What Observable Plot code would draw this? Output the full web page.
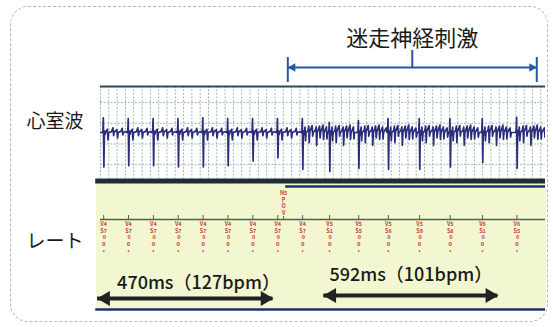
<!DOCTYPE html>
<html><head><meta charset="utf-8">
<script src="https://cdn.jsdelivr.net/npm/d3@7"></script>
<script src="https://cdn.jsdelivr.net/npm/@observablehq/plot@0.6"></script>
<style>
body{margin:0;background:#fff;}
#wrap{position:relative;width:553px;height:327px;overflow:hidden;background:#fff;font-family:"Noto Sans CJK JP","Noto Sans",sans-serif;}
.abs{position:absolute;}
.lane{position:absolute;width:90px;left:10px;text-align:center;font-size:19px;color:#1a1a1a;line-height:1;}
</style></head><body><div id="wrap"></div>
<script>
// ---------------- data ----------------
const intervalsMs = [470,470,470,470,470,470,470,470, 510,550,560,590,580,610,650];
const firstLabelMs = 470;
const rAmp = [0.32,0.30,0.30,0.30,0.32,0.30,0.30,0.30,0.30,0.22,0.26,0.30,0.30,0.30,0.30,0.33];
const sAmp = [-0.75,-0.72,-0.72,-0.75,-0.75,-0.72,-0.62,-0.55,-0.80,-0.85,-0.78,-0.80,-0.80,-0.75,-0.65,-0.78];
const restShape = [[-28,0],[-14,0.04],[-6,"R"],[4,"S"],[14,0.03],[28,-0.04],[40,0.02],[70,0.07],[82,-0.16],[95,0.0],[150,0.02],[175,0.1],[188,-0.07],[200,0.01],[250,0.06],[262,-0.12],[275,0.0],[330,0.03],[350,0.09],[362,-0.05],[375,0.0],[420,0.02]];
const stimShape = [[-28,0],[-14,0.04],[-6,"R"],[4,"S"],[14,0.03],[28,-0.05],[45,0.12],[55,-0.18],[66,0.0],[100,0.04],[115,0.14],[125,-0.22],[136,0.02],[180,0.15],[190,-0.08],[200,0.0],[240,0.05],[255,0.12],[265,-0.28],[276,0.0],[320,0.14],[330,-0.12],[342,0.01],[385,0.16],[395,-0.15],[406,0.0],[450,0.12],[460,-0.14],[470,0.0],[520,0.1],[530,-0.1],[545,0]];
const stimStartMs = 3480, stimEndMs = 8185;
const stimTitle = "迷走神経刺激";
const laneLabels = ["心室波","レート"];
const summaryLabels = ["470ms（127bpm）","592ms（101bpm）"];
const summarySpans = [[-115,3200],[4160,7450]];
const xDomain = [-60, 8350];
const gridLevels = [-0.7,-0.25,0.2,0.65];
const markerText = "N5\nP\nO\nV";

// ---------------- derived ----------------
const beats = [];
{ let t = 0; beats.push({t, label:firstLabelMs, i:0});
  intervalsMs.forEach((iv,k)=>{ t += iv; beats.push({t, label:iv, i:k+1}); }); }
const ecgPoints = [{t:xDomain[0], v:0}];
beats.forEach((b,i)=>{
  const shape = b.t >= stimStartMs ? stimShape : restShape;
  const next = i < intervalsMs.length ? intervalsMs[i] : Infinity;
  shape.forEach(([dt,a])=>{
    if (dt >= next - 30) return;
    const v = a === "R" ? rAmp[i] : a === "S" ? sAmp[i] : a;
    ecgPoints.push({t:b.t+dt, v});
  });
});
ecgPoints.push({t:xDomain[1]+200, v:0});
const gridTimes = d3.range(xDomain[0], xDomain[1]+1, 157);
const stimMid = (stimStartMs+stimEndMs)/2;
const beatLabel = d => { const s = String(d.label); return `V${s[0]}\nS${s[1]}\n\u00a0${s[2]}\no\n•`; };

const wrap = document.getElementById("wrap");
const FONT = '"Noto Sans CJK JP","Noto Sans",sans-serif';
function place(el, y){ el.style.position="absolute"; el.style.left="0px"; el.style.top=y+"px"; wrap.appendChild(el); }

// border + backgrounds
const border = document.createElement("div");
border.className="abs";
Object.assign(border.style,{left:"10px",top:"6px",width:"536px",height:"314px",border:"1px dashed #b8b8b8",borderRadius:"18px"});
wrap.appendChild(border);
const yellow = document.createElement("div");
yellow.className="abs";
Object.assign(yellow.style,{left:"96px",top:"183px",width:"450px",height:"126px",background:"#f2f7d2"});
wrap.appendChild(yellow);

// lane labels
laneLabels.forEach((s,k)=>{
  const d=document.createElement("div"); d.className="lane"; d.textContent=s;
  d.style.top = (k===0 ? 110 : 230)+"px"; wrap.appendChild(d);
});

const common = {width:553, marginLeft:100, marginRight:8, x:{domain:xDomain, axis:null},
  style:{background:"transparent", overflow:"visible", fontFamily:FONT}};

// top: stimulation bracket
const blue = "#2458a6";
const topPlot = Plot.plot({...common, height:84, marginTop:0, marginBottom:0,
  y:{domain:[0,84], range:[0,84], axis:null},
  marks:[
    Plot.text([stimTitle],{x:()=>stimMid, y:()=>38, text:d=>d, fontSize:22, fill:"#1a1a1a"}),
    Plot.ruleY([67],{x1:stimStartMs, x2:stimEndMs, stroke:blue, strokeWidth:2}),
    Plot.ruleX([stimStartMs, stimEndMs],{y1:57, y2:82, stroke:blue, strokeWidth:2}),
    Plot.ruleX([stimMid],{y1:50, y2:67, stroke:blue, strokeWidth:2}),
    Plot.dot([stimStartMs],{x:d=>d, y:()=>67, symbol:"triangle", rotate:-90, r:3.2, fill:blue, dx:5}),
    Plot.dot([stimEndMs],{x:d=>d, y:()=>67, symbol:"triangle", rotate:90, r:3.2, fill:blue, dx:-5})
  ]});
place(topPlot, 0);

// ECG strip
const ecgPlot = Plot.plot({...common, height:100, marginTop:2, marginBottom:6,
  y:{domain:[-1,1], axis:null},
  marks:[
    Plot.ruleX(gridTimes,{stroke:"#8fb3a2", strokeDasharray:"2,1.5", strokeWidth:0.9}),
    Plot.ruleY(gridLevels,{stroke:"#8fb3a2", strokeDasharray:"2,1.5", strokeWidth:0.9}),
    Plot.line(ecgPoints,{x:"t", y:"v", stroke:"#2c2c7c", strokeWidth:1.7, clip:true}),
    Plot.ruleY([1],{stroke:"#2b4a5e", strokeWidth:2}),
    Plot.ruleY([-1],{x1:-150, x2:xDomain[1], stroke:"#1d2c35", strokeWidth:5, dy:2.5})
  ]});
place(ecgPlot, 84);

// rate strip
const red = "#c8403c", green = "#4b6641";
const lab = {fontSize:5.5, fontWeight:"bold", fill:red, lineAnchor:"top", lineHeight:1.2};
const ratePlot = Plot.plot({...common, height:130, marginTop:0, marginBottom:0,
  y:{domain:[0,130], range:[0,130], axis:null},
  marks:[
    Plot.ruleY([3],{x1:stimStartMs-40, x2:xDomain[1], stroke:"#1c2f6e", strokeWidth:2.5}),
    Plot.ruleY([36],{stroke:green, strokeWidth:1.5}),
    Plot.ruleX(beats,{x:"t", y1:32, y2:36, stroke:green, strokeWidth:1}),
    Plot.ruleX([stimStartMs-80],{y1:33, y2:36, stroke:green, strokeWidth:1}),
    Plot.text(beats,{x:"t", y:()=>38, text:beatLabel, ...lab}),
    Plot.text([markerText],{x:()=>stimStartMs-80, y:()=>7, text:d=>d, ...lab}),
    // summaries
    Plot.text(summaryLabels,{x:(d,i)=>(summarySpans[i][0]+summarySpans[i][1])/2 + (i===0?250:0), y:(d,i)=>i===0?100:92, text:d=>d, fontSize:18, fontWeight:500, fill:"#1a1a1a"}),
    Plot.ruleY(summarySpans,{x1:d=>d[0], x2:d=>d[1], y:(d,i)=>i===0?115:112, stroke:"#222", strokeWidth:4}),
    Plot.dot(summarySpans,{x:d=>d[0], y:(d,i)=>i===0?115:112, symbol:"triangle", rotate:-90, r:5.5, fill:"#222", dx:8}),
    Plot.dot(summarySpans,{x:d=>d[1], y:(d,i)=>i===0?115:112, symbol:"triangle", rotate:90, r:5.5, fill:"#222", dx:-8}),
    Plot.ruleY([126],{x1:-150, x2:xDomain[1], stroke:"#1f3160", strokeWidth:2.5})
  ]});
place(ratePlot, 183);
</script></body></html>
